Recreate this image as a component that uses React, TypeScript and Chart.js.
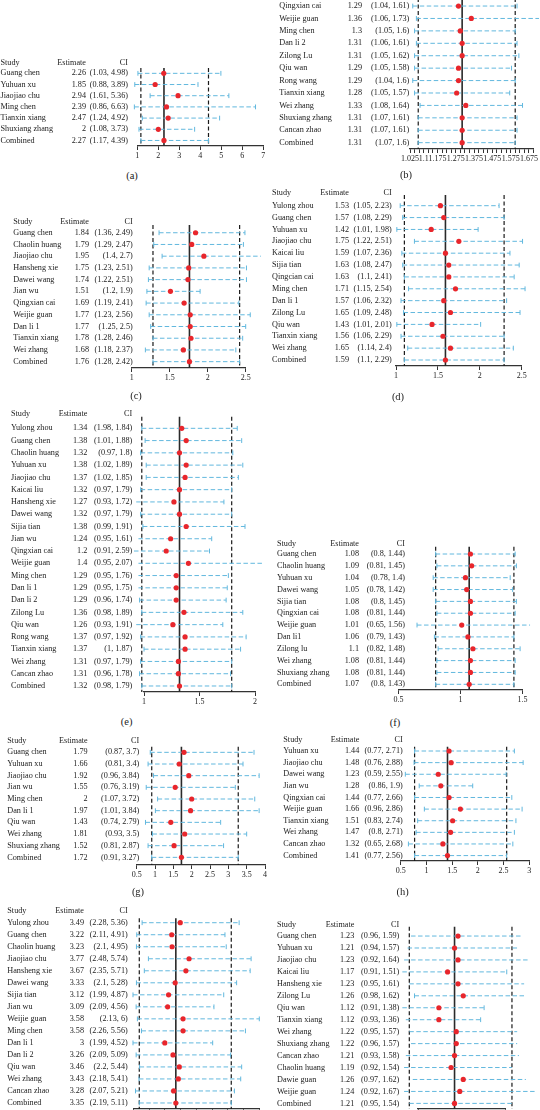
import React, { useEffect, useRef } from "react";
import { Chart, registerables } from "chart.js";

Chart.register(...registerables);

const FONT = '"Liberation Serif", "Times New Roman", serif';
const RED = "#e8262c";
const BLUE = "#62b8de";
const DARK = "#222";

// ---------- (a)
const studiesA = ["Guang chen", "Yuhuan xu", "Jiaojiao chu", "Ming chen", "Tianxin xiang", "Shuxiang zhang", "Combined"];
const estA = [2.26, 1.85, 2.94, 2.39, 2.47, 2, 2.27];
const loA = [1.03, 0.88, 1.61, 0.86, 1.24, 1.08, 1.17];
const hiA = [4.98, 3.89, 5.36, 6.63, 4.92, 3.73, 4.39];
const ticksA = [1, 2, 3, 4, 5, 6, 7];

// ---------- (b)
const studiesB = ["Qingxian cai", "Weijie guan", "Ming chen", "Dan li 2", "Zilong Lu", "Qiu wan", "Rong wang", "Tianxin xiang", "Wei zhang", "Shuxiang zhang", "Cancan zhao", "Combined"];
const estB = [1.29, 1.36, 1.3, 1.31, 1.31, 1.29, 1.29, 1.28, 1.33, 1.31, 1.31, 1.31];
const loB = [1.04, 1.06, 1.05, 1.06, 1.05, 1.05, 1.04, 1.05, 1.08, 1.07, 1.07, 1.07];
const hiB = [1.61, 1.73, 1.6, 1.61, 1.62, 1.58, 1.6, 1.57, 1.64, 1.61, 1.61, 1.6];
const tickLabelsB = [1.025, 1.1, 1.175, 1.275, 1.375, 1.475, 1.575, 1.675];

// ---------- (c)
const studiesC = ["Guang chen", "Chaolin huang", "Jiaojiao chu", "Hansheng xie", "Dawei wang", "Jian wu", "Qingxian cai", "Weijie guan", "Dan li 1", "Tianxin xiang", "Wei zhang", "Combined"];
const estC = [1.84, 1.79, 1.95, 1.75, 1.74, 1.51, 1.69, 1.77, 1.77, 1.78, 1.68, 1.76];
const loC = [1.36, 1.29, 1.4, 1.23, 1.22, 1.2, 1.19, 1.23, 1.25, 1.28, 1.18, 1.28];
const hiC = [2.49, 2.47, 2.7, 2.51, 2.51, 1.9, 2.41, 2.56, 2.5, 2.46, 2.37, 2.42];
const ticksC = [1, 1.5, 2, 2.5];

// ---------- (d)
const studiesD = ["Yulong zhou", "Guang chen", "Yuhuan xu", "Jiaojiao chu", "Kaicai liu", "Sijia tian", "Qingcian cai", "Ming chen", "Dan li 1", "Zilong Lu", "Qiu wan", "Tianxin xiang", "Wei zhang", "Combined"];
const estD = [1.53, 1.57, 1.42, 1.75, 1.59, 1.63, 1.63, 1.71, 1.57, 1.65, 1.43, 1.56, 1.65, 1.59];
const loD = [1.05, 1.08, 1.01, 1.22, 1.07, 1.08, 1.1, 1.15, 1.06, 1.09, 1.01, 1.06, 1.14, 1.1];
const hiD = [2.23, 2.29, 1.98, 2.51, 2.36, 2.47, 2.41, 2.54, 2.32, 2.48, 2.01, 2.29, 2.4, 2.29];
const ticksD = [1, 1.5, 2, 2.5];

// ---------- (e)
const studiesE = ["Yulong zhou", "Guang chen", "Chaolin huang", "Yuhuan xu", "Jiaojiao chu", "Kaicai liu", "Hansheng xie", "Dawei wang", "Sijia tian", "Jian wu", "Qingxian cai", "Weijie guan", "Ming chen", "Dan li 1", "Dan li 2", "Zilong Lu", "Qiu wan", "Rong wang", "Tianxin xiang", "Wei zhang", "Cancan zhao", "Combined"];
const estE = [1.34, 1.38, 1.32, 1.38, 1.37, 1.32, 1.27, 1.32, 1.38, 1.24, 1.2, 1.4, 1.29, 1.29, 1.29, 1.36, 1.26, 1.37, 1.37, 1.31, 1.31, 1.32];
const loE = [1.98, 1.01, 0.97, 1.02, 1.02, 0.97, 0.93, 0.97, 0.99, 0.95, 0.91, 0.95, 0.95, 0.95, 0.96, 0.98, 0.93, 0.97, 1, 0.97, 0.96, 0.98];
const hiE = [1.84, 1.88, 1.8, 1.89, 1.85, 1.79, 1.72, 1.79, 1.91, 1.61, 2.59, 2.07, 1.76, 1.75, 1.74, 1.89, 1.91, 1.92, 1.87, 1.79, 1.78, 1.79];
// bars as drawn in the figure (differ from printed text in a few rows)
const barLoE = [0.98, 1.01, 0.97, 1.02, 1.02, 0.97, 0.93, 0.97, 0.99, 0.95, 0.91, 0.95, 0.95, 0.95, 0.96, 0.98, 0.93, 0.97, 1, 0.97, 0.96, 0.98];
const barHiE = [1.84, 1.88, 1.8, 1.89, 1.85, 1.79, 1.72, 1.79, 1.91, 1.61, 1.59, 2.07, 1.76, 1.75, 1.74, 1.89, 1.71, 1.92, 1.87, 1.79, 1.78, 1.79];
const ticksE = [1, 1.5, 2];

// ---------- (f)
const studiesF = ["Guang chen", "Chaolin huang", "Yuhuan xu", "Dawei wang", "Sijia tian", "Qingxian cai", "Weijie guan", "Dan li1", "Zilong lu", "Wei zhang", "Shuxiang zhang", "Combined"];
const estF = [1.08, 1.09, 1.04, 1.05, 1.08, 1.08, 1.01, 1.06, 1.1, 1.08, 1.08, 1.07];
const loF = [0.8, 0.81, 0.78, 0.78, 0.8, 0.81, 0.65, 0.79, 0.82, 0.81, 0.81, 0.8];
const hiF = [1.44, 1.45, 1.4, 1.42, 1.45, 1.44, 1.56, 1.43, 1.48, 1.44, 1.44, 1.43];
const ticksF = [0.5, 1, 1.5];

// ---------- (g)
const studiesG = ["Guang chen", "Yuhuan xu", "Jiaojiao chu", "Jian wu", "Ming chen", "Dan li 1", "Qiu wan", "Wei zhang", "Shuxiang zhang", "Combined"];
const estG = [1.79, 1.66, 1.92, 1.55, 2, 1.97, 1.43, 1.81, 1.52, 1.72];
const loG = [0.87, 0.81, 0.96, 0.76, 1.07, 1.01, 0.74, 0.93, 0.81, 0.91];
const hiG = [3.7, 3.4, 3.84, 3.19, 3.72, 3.84, 2.79, 3.5, 2.87, 3.27];
const ticksG = [0.5, 1, 1.5, 2, 2.5, 3, 3.5, 4];

// ---------- (h)
const studiesH = ["Yuhuan xu", "Jiaojiao chu", "Dawei wang", "Jian wu", "Qingxian cai", "Weijie guan", "Tianxin xiang", "Wei zhang", "Cancan zhao", "Combined"];
const estH = [1.44, 1.48, 1.23, 1.28, 1.44, 1.66, 1.51, 1.47, 1.32, 1.41];
const loH = [0.77, 0.76, 0.59, 0.86, 0.77, 0.96, 0.83, 0.8, 0.65, 0.77];
const hiH = [2.71, 2.88, 2.55, 1.9, 2.66, 2.86, 2.74, 2.71, 2.68, 2.56];
const ticksH = [0.5, 1, 1.5, 2, 2.5, 3];

// ---------- (i)
const studiesI = ["Yulong zhou", "Guang chen", "Chaolin huang", "Jiaojiao chu", "Hansheng xie", "Dawei wang", "Sijia tian", "Jian wu", "Weijie guan", "Ming chen", "Dan li 1", "Dan li 2", "Qiu wan", "Wei zhang", "Cancan zhao", "Combined"];
const estI = [3.49, 3.22, 3.23, 3.77, 3.67, 3.33, 3.12, 3.09, 3.58, 3.58, 3, 3.26, 3.46, 3.43, 3.28, 3.35];
const loI = [2.28, 2.11, 2.1, 2.48, 2.35, 2.1, 1.99, 2.09, 2.13, 2.26, 1.99, 2.09, 2.2, 2.18, 2.07, 2.19];
const hiI = [5.36, 4.91, 4.95, 5.74, 5.71, 5.28, 4.87, 4.56, 6, 5.56, 4.52, 5.09, 5.44, 5.41, 5.21, 5.11];
const ticksI = [2, 2.5, 3, 3.5, 4, 4.5, 5, 5.5, 6];

// ---------- (j)
const studiesJ = ["Guang chen", "Yuhuan xu", "Jiaojiao chu", "Kaicai liu", "Hansheng xie", "Zilong Lu", "Qiu wan", "Tianxin xiang", "Wei zhang", "Shuxiang zhang", "Cancan zhao", "Chaolin huang", "Dawie guan", "Weijie guan", "Combined"];
const estJ = [1.23, 1.21, 1.23, 1.17, 1.23, 1.26, 1.12, 1.12, 1.22, 1.22, 1.21, 1.19, 1.26, 1.24, 1.21];
const loJ = [0.96, 0.94, 0.92, 0.91, 0.95, 0.98, 0.91, 0.93, 0.95, 0.96, 0.93, 0.92, 0.97, 0.92, 0.95];
const hiJ = [1.59, 1.57, 1.64, 1.51, 1.61, 1.62, 1.38, 1.36, 1.57, 1.57, 1.58, 1.54, 1.62, 1.67, 1.54];
const ticksJ = [1, 1.5];

type Panel = {
  id: string;
  label?: string;
  studies: string[];
  est: number[];
  lo: number[];
  hi: number[];
  barLo?: number[];
  barHi?: number[];
  xMin: number;
  xMax: number;
  ticks: number[];
  labelTicks?: number[];
  x0: number;
  xL: number;
  xR: number;
  firstY: number;
  lastY: number;
  axisY: number;
  topY: number;
  headerY?: number;
  nameX: number;
  estR: number;
  ciR: number;
  labelX?: number;
  labelY?: number;
};

// minor ticks for panel (b): every 0.025
const ticksB: number[] = [];
for (let k = 1025; k <= 1700; k += 25) ticksB.push(k / 1000);

const panels: Panel[] = [
  { id: "a", label: "(a)", studies: studiesA, est: estA, lo: loA, hi: hiA, xMin: 1, xMax: 7, ticks: ticksA,
    x0: 0, xL: 137.3, xR: 263.3, firstY: 73.3, lastY: 140, axisY: 145.5, topY: 68, headerY: 62.7,
    nameX: 0.5, estR: 86, ciR: 128, labelX: 132, labelY: 175.7 },
  { id: "b", label: "(b)", studies: studiesB, est: estB, lo: loB, hi: hiB, xMin: 1.025, xMax: 1.7, ticks: ticksB, labelTicks: tickLabelsB,
    x0: 270, xL: 410, xR: 533.5, firstY: 6, lastY: 142, axisY: 148.3, topY: -2,
    nameX: 279.3, estR: 362, ciR: 409.3, labelX: 406, labelY: 175 },
  { id: "c", label: "(c)", studies: studiesC, est: estC, lo: loC, hi: hiC, xMin: 1, xMax: 2.5, ticks: ticksC,
    x0: 0, xL: 131.7, xR: 245.7, firstY: 232.7, lastY: 361, axisY: 367.3, topY: 225, headerY: 221.7,
    nameX: 13.3, estR: 89, ciR: 132.7, labelX: 136, labelY: 395.7 },
  { id: "d", label: "(d)", studies: studiesD, est: estD, lo: loD, hi: hiD, xMin: 1, xMax: 2.5, ticks: ticksD,
    x0: 270, xL: 396, xR: 521.7, firstY: 205.7, lastY: 360, axisY: 366, topY: 195, headerY: 193.3,
    nameX: 272, estR: 349, ciR: 391.7, labelX: 398, labelY: 396.7 },
  { id: "e", label: "(e)", studies: studiesE, est: estE, lo: loE, hi: hiE, barLo: barLoE, barHi: barHiE, xMin: 1, xMax: 2, ticks: ticksE,
    x0: 0, xL: 144, xR: 255, firstY: 428.3, lastY: 685.7, axisY: 691.7, topY: 416.7, headerY: 414.3,
    nameX: 11, estR: 87.3, ciR: 132.3, labelX: 126.7, labelY: 721.7 },
  { id: "f", label: "(f)", studies: studiesF, est: estF, lo: loF, hi: hiF, xMin: 0.5, xMax: 1.5, ticks: ticksF,
    x0: 270, xL: 398.4, xR: 522.6, firstY: 554, lastY: 684.3, axisY: 690, topY: 546.7, headerY: 544,
    nameX: 277, estR: 359, ciR: 405, labelX: 395, labelY: 722.7 },
  { id: "g", label: "(g)", studies: studiesG, est: estG, lo: loG, hi: hiG, xMin: 0.5, xMax: 4, ticks: ticksG,
    x0: 0, xL: 136.7, xR: 266.7, firstY: 752.3, lastY: 856.7, axisY: 864.3, topY: 746.7, headerY: 740.7,
    nameX: 7.3, estR: 87.7, ciR: 139.3, labelX: 138, labelY: 891.7 },
  { id: "h", label: "(h)", studies: studiesH, est: estH, lo: loH, hi: hiH, xMin: 0.5, xMax: 3, ticks: ticksH,
    x0: 270, xL: 400.7, xR: 529.3, firstY: 751, lastY: 855.3, axisY: 860.7, topY: 746.7, headerY: 740,
    nameX: 283.3, estR: 359.3, ciR: 402.7, labelX: 402.7, labelY: 892.3 },
  { id: "i", studies: studiesI, est: estI, lo: loI, hi: hiI, xMin: 2, xMax: 6, ticks: ticksI,
    x0: 0, xL: 133.3, xR: 259.3, firstY: 922.7, lastY: 1102.3, axisY: 1108.3, topY: 918.3, headerY: 911,
    nameX: 7.3, estR: 84, ciR: 127.7 },
  { id: "j", studies: studiesJ, est: estJ, lo: loJ, hi: hiJ, xMin: 1, xMax: 1.5, ticks: ticksJ,
    x0: 270, xL: 418, xR: 505, firstY: 936, lastY: 1102.7, axisY: 1108.3, topY: 926.7, headerY: 925,
    nameX: 277, estR: 354.3, ciR: 399.3 },
];

const AXIS_H = 22;
const TEXT_SIZE = 8.2;

function ForestPanel({ p }: { p: Panel }) {
  const ref = useRef<HTMLCanvasElement | null>(null);
  const canvasTop = Math.floor(Math.min(p.topY, p.headerY ?? p.topY) - 10);
  const W = p.x0 === 0 ? 270 : 300;
  const H = Math.ceil(p.axisY + AXIS_H - canvasTop);

  useEffect(() => {
    if (!ref.current) return;
    const n = p.studies.length;
    const s = (p.lastY - p.firstY) / (n - 1);
    const yMin = (p.topY - p.firstY) / s;
    const yMax = (p.axisY - p.firstY) / s;
    const last = n - 1;
    const bl = p.barLo ?? p.lo;
    const bh = p.barHi ?? p.hi;

    const vline = (x: number, dash: number[], color: string, width: number) => ({
      type: "line",
      data: [{ x, y: yMin }, { x, y: yMax }],
      borderColor: color,
      borderWidth: width,
      borderDash: dash,
      pointRadius: 0,
      clip: false,
      order: 3,
    });

    const datasets: any[] = [
      vline(p.lo[last], [4, 2.5], "#1a1a1a", 1.2),
      vline(p.hi[last], [4, 2.5], "#1a1a1a", 1.2),
      vline(p.est[last], [], "#2a2a2a", 1.6),
    ];
    for (let i = 0; i < n; i++) {
      datasets.push({
        type: "line",
        data: [{ x: bl[i], y: i }, { x: bh[i], y: i }],
        borderColor: BLUE,
        borderWidth: 1,
        borderDash: [4.5, 2.5],
        pointStyle: "line",
        pointRotation: 90,
        pointRadius: 2.4,
        pointBorderColor: BLUE,
        pointBorderWidth: 1,
        pointBackgroundColor: BLUE,
        clip: false,
        order: 2,
      });
    }
    datasets.push({
      type: "scatter",
      data: p.est.map((e, i) => ({ x: e, y: i })),
      pointRadius: 2.6,
      pointBackgroundColor: RED,
      pointBorderWidth: 0,
      clip: false,
      order: 0,
    });

    const textPlugin = {
      id: "forestText" + p.id,
      afterDraw(chart: any) {
        const ctx = chart.ctx as CanvasRenderingContext2D;
        const ys = chart.scales.y;
        ctx.save();
        ctx.font = `${TEXT_SIZE}px ${FONT}`;
        ctx.fillStyle = DARK;
        ctx.textBaseline = "middle";
        if (p.headerY !== undefined) {
          const hy = p.headerY - canvasTop;
          ctx.textAlign = "left";
          ctx.fillText("Study", p.nameX - p.x0, hy);
          ctx.textAlign = "right";
          ctx.fillText("Estimate", p.estR - p.x0, hy);
          ctx.fillText("CI", p.ciR - p.x0, hy);
        }
        for (let i = 0; i < n; i++) {
          const y = ys.getPixelForValue(i);
          ctx.textAlign = "left";
          ctx.fillText(p.studies[i], p.nameX - p.x0, y);
          ctx.textAlign = "right";
          ctx.fillText(String(p.est[i]), p.estR - p.x0, y);
          ctx.fillText(`(${p.lo[i]}, ${p.hi[i]})`, p.ciR - p.x0, y);
        }
        ctx.restore();
      },
    };

    const chart = new Chart(ref.current, {
      type: "scatter",
      data: { datasets },
      options: {
        animation: false,
        responsive: false,
        events: [],
        layout: {
          padding: {
            left: p.xL - p.x0,
            right: W - (p.xR - p.x0),
            top: p.topY - canvasTop,
            bottom: 0,
          },
        },
        plugins: { legend: { display: false }, tooltip: { enabled: false } },
        scales: {
          x: {
            type: "linear",
            min: p.xMin,
            max: p.xMax,
            afterBuildTicks: (sc: any) => {
              sc.ticks = p.ticks.map((v) => ({ value: v }));
            },
            afterFit: (sc: any) => {
              sc.height = AXIS_H;
            },
            ticks: {
              autoSkip: false,
              maxRotation: 0,
              minRotation: 0,
              padding: 1,
              color: DARK,
              font: { family: FONT, size: 8 },
              callback: (v: any) => {
                const val = Number(v);
                if (p.labelTicks) {
                  const m = p.labelTicks.find((t) => Math.abs(t - val) < 1e-6);
                  return m === undefined ? "" : String(m);
                }
                return String(Math.round(val * 1000) / 1000);
              },
            },
            grid: {
              display: true,
              drawOnChartArea: false,
              drawTicks: true,
              tickLength: 4,
              color: "#333",
              lineWidth: 1,
            },
            border: { display: true, color: "#333", width: 1.3 },
          },
          y: {
            type: "linear",
            display: false,
            reverse: true,
            min: yMin,
            max: yMax,
          },
        },
      } as any,
      plugins: [textPlugin],
    });
    return () => chart.destroy();
  }, [p]);

  return (
    <canvas
      ref={ref}
      width={W}
      height={H}
      style={{ position: "absolute", left: p.x0, top: canvasTop, width: W, height: H }}
    />
  );
}

export default function App() {
  return (
    <div
      style={{
        position: "absolute",
        left: 0,
        top: 0,
        width: 540,
        height: 1110,
        overflow: "hidden",
        background: "#fff",
      }}
    >
      {panels.map((p) => (
        <ForestPanel key={p.id} p={p} />
      ))}
      {panels
        .filter((p) => p.label)
        .map((p) => (
          <div
            key={"lbl" + p.id}
            style={{
              position: "absolute",
              left: (p.labelX as number) - 20,
              top: (p.labelY as number) - 7,
              width: 40,
              textAlign: "center",
              fontFamily: FONT,
              fontSize: 10.5,
              lineHeight: "14px",
              color: DARK,
            }}
          >
            {p.label}
          </div>
        ))}
    </div>
  );
}
